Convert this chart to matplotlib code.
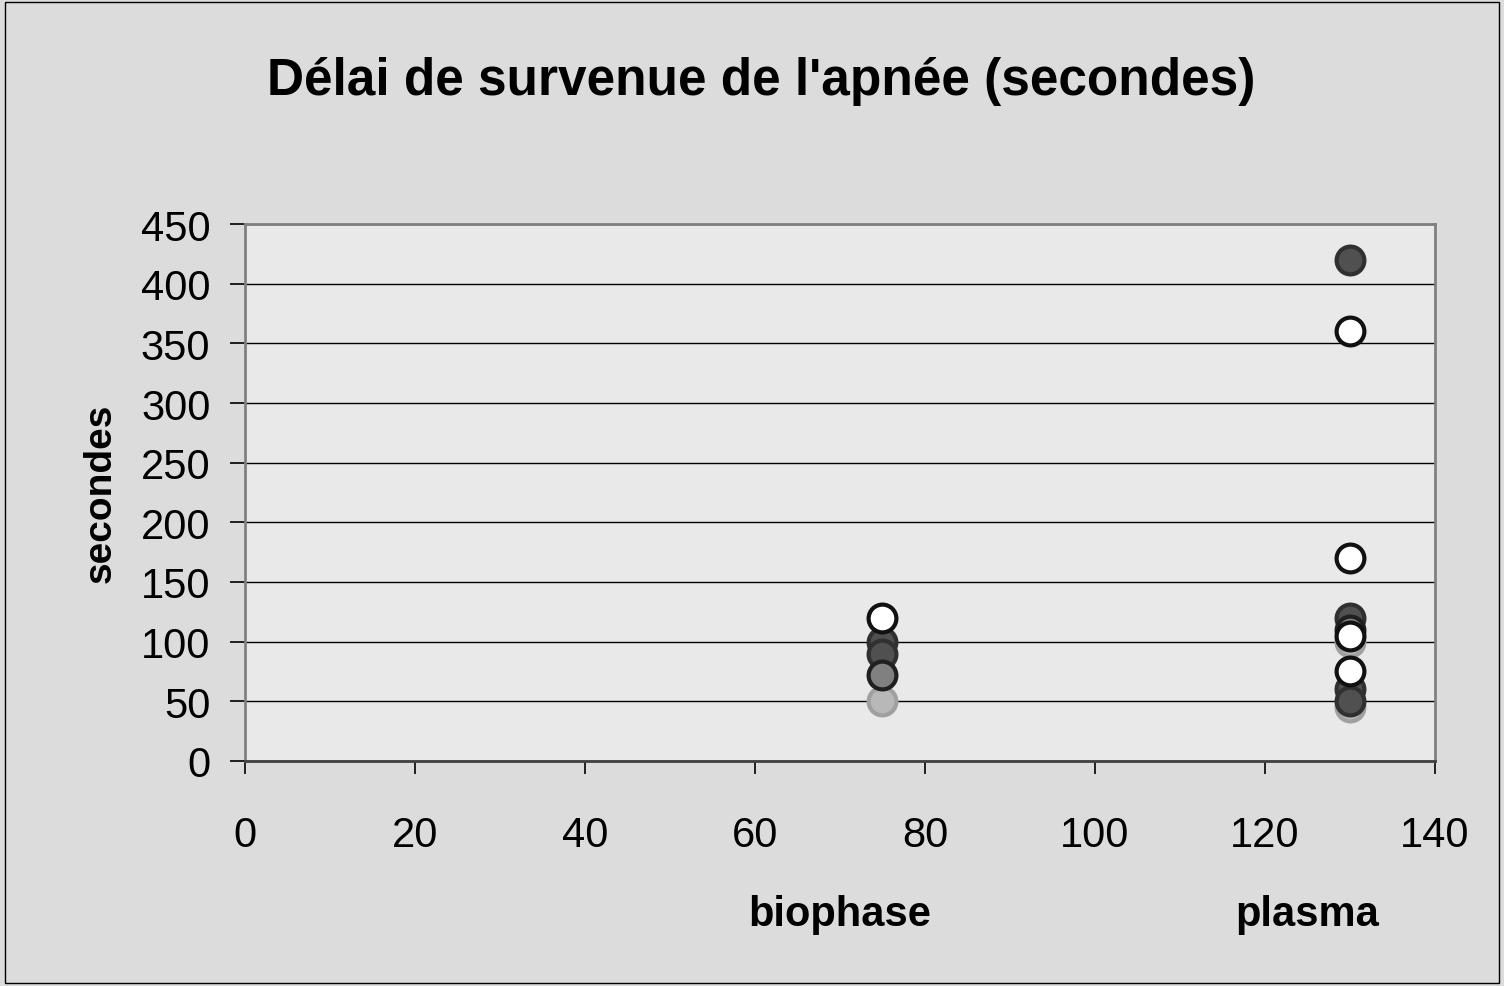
import matplotlib
matplotlib.use("Agg")
import matplotlib.pyplot as plt
import numpy as np

plt.rcParams['font.family'] = ['Liberation Sans', 'DejaVu Sans']

title = "Délai de survenue de l'apnée (secondes)"
y_label = "secondes"
group_names = ["biophase", "plasma"]
group_x = [75, 130]

# values, one list per marker style
light_bio = [50]
light_pla = [100, 45]
dark_bio = [100, 90]
dark_pla = [420, 120, 60, 50]
mid_bio = [72]
mid_pla = [110]
open_bio = [120]
open_pla = [360, 170, 105, 75]

x_ticks = [0, 20, 40, 60, 80, 100, 120, 140]
y_ticks = [0, 50, 100, 150, 200, 250, 300, 350, 400, 450]

fig = plt.figure(figsize=(15.04, 9.87), dpi=100, facecolor='#dcdcdc')
ax = fig.add_axes([0.163, 0.228, 0.791, 0.544], facecolor='#e9e9e9')

def draw(bio, pla, face, edge):
    xs = [group_x[0]] * len(bio) + [group_x[1]] * len(pla)
    ys = list(bio) + list(pla)
    ax.plot(xs, ys, 'o', ms=20, mfc=face, mec=edge, mew=3, ls='none', zorder=3)

draw(light_bio, light_pla, '#b8b8b8', '#a0a0a0')
draw(dark_bio, dark_pla, '#505050', '#303030')
draw(mid_bio, mid_pla, '#808080', '#202020')
draw(open_bio, open_pla, 'white', '#111111')

ax.set_xlim(0, 140)
ax.set_ylim(0, 450)
ax.set_xticks(x_ticks)
ax.set_yticks(y_ticks)
ax.yaxis.grid(True, color='black', lw=1)
ax.set_axisbelow(True)
ax.tick_params(axis='both', labelsize=30, direction='out', width=1.2)
ax.tick_params(axis='y', length=11, pad=14)
ax.tick_params(axis='x', length=9, pad=30)
for s in ax.spines.values():
    s.set_color('#808080')
    s.set_linewidth(2)
ax.spines['bottom'].set_color('#404040')

ax.set_ylabel(y_label, fontsize=28, fontweight='bold', labelpad=16)
for name, gx in zip(group_names, group_x):
    ax.text(gx - 5, -0.285, name, transform=ax.get_xaxis_transform(),
            ha='center', va='center', fontsize=30, fontweight='bold')

fig.text(0.506, 0.917, title, ha='center', va='center', fontsize=37, fontweight='bold')
fig.patches.append(plt.Rectangle((0.003, 0.003), 0.994, 0.994, transform=fig.transFigure,
                                 fill=False, ec='black', lw=1))

fig.savefig("out.png", dpi=100, facecolor=fig.get_facecolor())
